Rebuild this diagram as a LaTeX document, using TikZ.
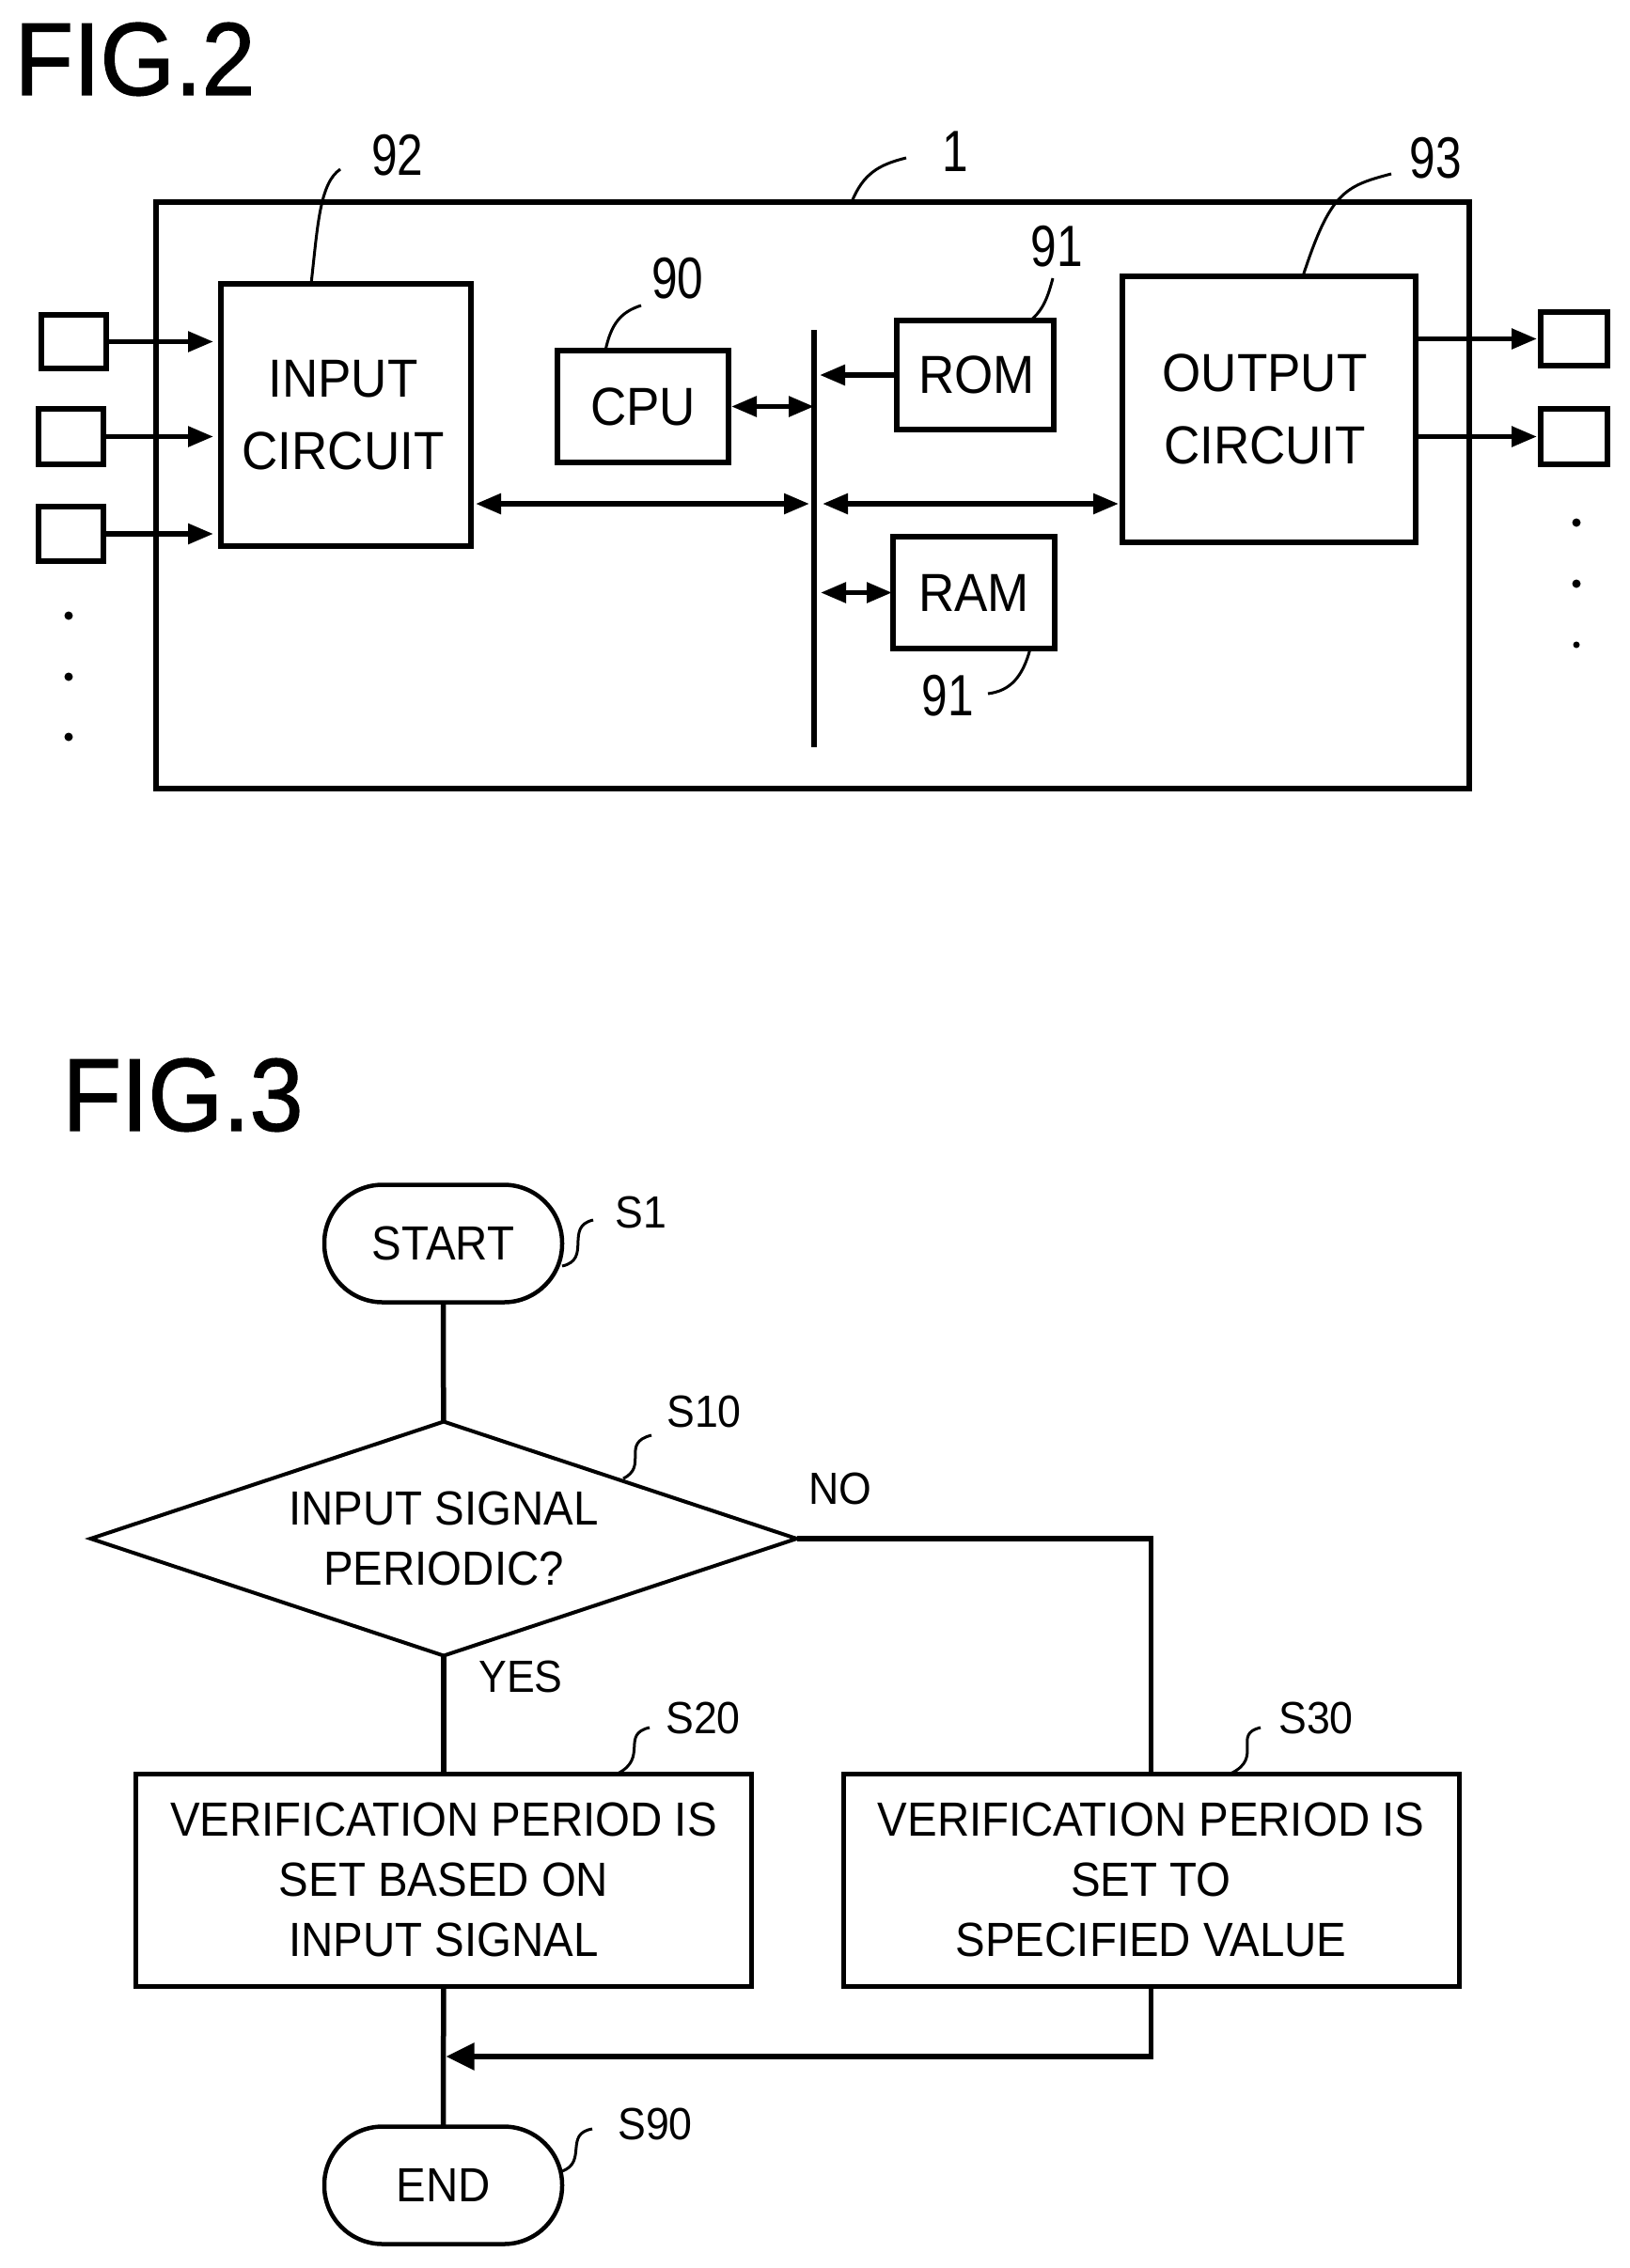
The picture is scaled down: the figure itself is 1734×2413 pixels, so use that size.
\documentclass[tikz,border=0pt]{standalone}
\usepackage{fontspec}
\setmainfont[FakeStretch=0.93]{Liberation Sans}
\newfontfamily\numfont[FakeStretch=0.8]{Liberation Sans}
\newfontfamily\figfont[FakeStretch=0.93,FakeBold=1.2]{Liberation Sans}
\usetikzlibrary{arrows.meta,shapes.geometric}
\tikzset{
  blockbox/.style={draw=black,line width=5.5pt,rectangle,inner sep=0pt,outer sep=0pt,align=center,font=\fontsize{57}{77}\selectfont},
  termbox/.style={draw=black,line width=4.5pt,rectangle,inner sep=0pt,outer sep=0pt,align=center,minimum width=253pt,minimum height=125pt,rounded corners=62pt,font=\fontsize{51}{64}\selectfont},
  flowbox/.style={draw=black,line width=5pt,rectangle,inner sep=0pt,outer sep=0pt,align=center,minimum width=655pt,minimum height=226pt,font=\fontsize{51}{64}\selectfont},
  decbox/.style={draw=black,line width=4pt,diamond,aspect=3.016,inner sep=0pt,outer sep=0pt,align=center,minimum width=751pt,minimum height=249pt,font=\fontsize{51}{64}\selectfont},
  conn/.style={draw=black,line width=5.5pt},
  arr/.style={conn,-{Triangle[length=27pt,width=21pt]}},
  biarr/.style={conn,{Triangle[length=27pt,width=21pt]}-{Triangle[length=27pt,width=21pt]}},
  leader/.style={draw=black,line width=3pt},
  numlabel/.style={inner sep=0pt,font=\fontsize{62}{62}\selectfont\numfont},
  steplabel/.style={inner sep=0pt,font=\fontsize{48}{48}\selectfont},
  figlabel/.style={inner sep=0pt,font=\fontsize{110}{110}\selectfont\figfont},
  dotmark/.style={circle,fill=black,inner sep=0pt,minimum size=9pt},
}
\begin{document}
\begin{tikzpicture}[x=1pt,y=-1pt]
\useasboundingbox (0,0) rectangle (1734,2413);
\fill[white] (0,0) rectangle (1734,2413);
% FIG. 2
\node[figlabel] (fig2) at (143.5,63) {FIG.2};
\node[blockbox,minimum width=1397pt,minimum height=624pt] (outer) at (864.5,527) {};
\node[blockbox,minimum width=266pt,minimum height=279pt] (input) at (368,441.5) {INPUT\hspace*{6pt}\\CIRCUIT\hspace*{6pt}};
\node[blockbox,minimum width=69pt,minimum height=57pt] (i1) at (78.5,363.5) {};
\node[blockbox,minimum width=69pt,minimum height=59pt] (i2) at (75.5,464.5) {};
\node[blockbox,minimum width=69pt,minimum height=58pt] (i3) at (75.5,568) {};
\node[dotmark] (dl1) at (73,655) {};
\node[dotmark] (dl2) at (73,720) {};
\node[dotmark] (dl3) at (73,784) {};
\node[blockbox,minimum width=182pt,minimum height=119pt] (cpu) at (684,432.5) {CPU};
\node[blockbox,minimum width=167pt,minimum height=116pt] (rom) at (1037.5,399) {\hspace*{3pt}ROM};
\node[blockbox,minimum width=172pt,minimum height=119pt] (ram) at (1036,630.5) {RAM};
\node[blockbox,minimum width=312pt,minimum height=283pt] (output) at (1350,435.5) {OUTPUT\hspace*{9pt}\\CIRCUIT\hspace*{9pt}};
\node[blockbox,minimum width=71pt,minimum height=57pt] (o1) at (1674.5,360.5) {};
\node[blockbox,minimum width=71pt,minimum height=59pt] (o2) at (1674.5,464.5) {};
\node[dotmark] (dr1) at (1677,556) {};
\node[dotmark] (dr2) at (1677,621) {};
\node[dotmark,minimum size=7pt] (dr3) at (1677,686) {};
\coordinate (busT) at (866,351);
\coordinate (busB) at (866,795);
\draw[conn] (busT) -- (busB);
\draw[arr,shorten >=8pt] (i1.east) -- (i1.east -| input.west);
\draw[arr,shorten >=8pt] (i2.east) -- (i2.east -| input.west);
\draw[arr,shorten >=8pt] (i3.east) -- (i3.east -| input.west);
\draw[biarr,shorten <=3pt] (cpu.east) -- (cpu.east -| busT);
\draw[arr,shorten >=6pt] (rom.west) -- (rom.west -| busT);
\draw[biarr,shorten <=5pt,shorten >=5pt] (input.east |- 0,536) -- (busT |- 0,536);
\draw[biarr,shorten <=9pt,shorten >=4pt] (busT |- 0,536) -- (output.west |- 0,536);
\draw[biarr,shorten <=7pt,shorten >=1pt] (busT |- ram.west) -- (ram.west);
\draw[arr,shorten >=4pt] (output.east |- o1.west) -- (o1.west);
\draw[arr,shorten >=4pt] (output.east |- o2.west) -- (o2.west);
\node[numlabel] (l92) at (423,165) {92};
\node[numlabel] (l90) at (721,296) {90};
\node[numlabel] (l1) at (1016,161) {1};
\node[numlabel] (l93) at (1527,168) {93};
\node[numlabel] (l91a) at (1124,262) {91};
\node[numlabel] (l91b) at (1008,740) {91};
\coordinate (c92) at (362,180);
\coordinate (c90) at (682,325);
\coordinate (c1) at (964,168);
\coordinate (c93) at (1480,185);
\coordinate (c91a) at (1120,296);
\coordinate (c91b) at (1051,738);
\draw[leader] (c92) .. controls (340,195) and (338,240) .. (input.north -| 331,0);
\draw[leader] (c90) .. controls (660,332) and (650,345) .. (cpu.north -| 644,0);
\draw[leader] (c1) .. controls (935,175) and (918,185) .. (outer.north -| 906,0);
\draw[leader] (c93) .. controls (1430,198) and (1415,205) .. (output.north -| 1386,0);
\draw[leader] (c91a) .. controls (1115,315) and (1110,330) .. (rom.north -| 1096,0);
\draw[leader] (ram.south -| 1096,0) .. controls (1088,720) and (1075,735) .. (c91b);
% FIG. 3
\node[figlabel] (fig3) at (194.5,1165) {FIG.3};
\node[termbox] (start) at (471.5,1323) {START};
\node[decbox] (dec) at (472,1637) {INPUT SIGNAL\\PERIODIC?};
\node[flowbox] (s20) at (472,2000) {VERIFICATION PERIOD IS\\SET BASED ON\\INPUT SIGNAL};
\node[flowbox] (s30) at (1224.5,2000) {VERIFICATION PERIOD IS\\SET TO\\SPECIFIED VALUE};
\node[termbox] (stop) at (471.5,2325) {END};
\coordinate (merge) at (471.5,2188);
\draw[conn] (start) -- (dec);
\draw[conn] (dec) -- (s20);
\draw[conn] (s20) -- (stop);
\draw[conn] (dec.east) -| (s30.north);
\draw[conn,-{Triangle[length=30pt,width=28pt]},shorten >=3pt] (s30.south) |- (merge);
\node[steplabel] (ls1) at (682,1290) {S1};
\node[steplabel] (ls10) at (749,1502) {S10};
\node[steplabel] (ls20) at (748,1828) {S20};
\node[steplabel] (ls30) at (1400,1828) {S30};
\node[steplabel] (ls90) at (697,2260) {S90};
\node[steplabel] (lno) at (894,1584) {NO};
\node[steplabel] (lyes) at (554,1784) {YES};
\coordinate (cs1) at (631,1298);
\coordinate (cs10) at (693,1527);
\coordinate (cs20) at (691,1838);
\coordinate (cs30) at (1341,1838);
\coordinate (cs90) at (630,2265);
\draw[leader] (cs1) .. controls (600,1305) and (630,1340) .. (start.east |- 0,1347);
\draw[leader] (cs10) .. controls (660,1535) and (690,1560) .. (663,1573);
\draw[leader] (cs20) .. controls (660,1845) and (690,1870) .. (s20.north -| 657,0);
\draw[leader] (cs30) .. controls (1310,1845) and (1345,1870) .. (s30.north -| 1309,0);
\draw[leader] (cs90) .. controls (600,2270) and (625,2300) .. (598,2310);
\end{tikzpicture}
\end{document}
